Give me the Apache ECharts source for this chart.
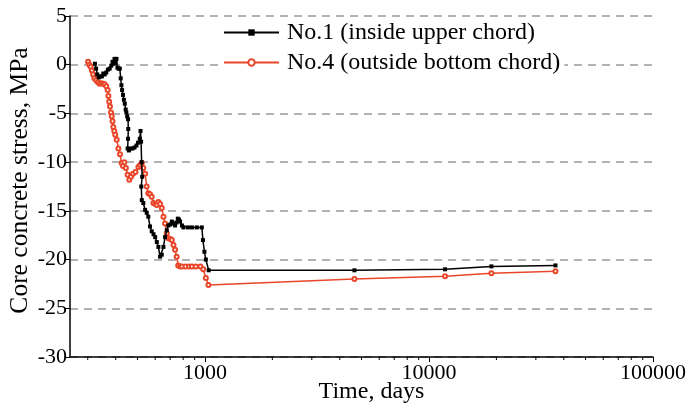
<!DOCTYPE html>
<html>
<head>
<meta charset="utf-8">
<script src="https://cdn.jsdelivr.net/npm/echarts@6/dist/echarts.min.js"></script>
<style>
  html, body { margin: 0; padding: 0; background: #fff; }
  #chart { width: 688px; height: 408px; }
</style>
</head>
<body>
<div id="chart"></div>
<script>
// ---------- data ----------
const seriesNames = ['No.1 (inside upper chord)', 'No.4 (outside bottom chord)']

const daysNo1 = [323, 327, 331, 336, 341, 347, 352, 357, 363, 369, 376, 382, 387, 391, 395, 399, 403, 407, 412, 417,
  421, 424, 427, 431, 435, 439, 443, 446, 450, 454, 455, 454, 452, 458, 465, 475, 485, 495, 503, 512,
  516, 519, 522, 525, 520, 523, 531, 541, 550, 559, 569, 579, 590, 600, 610, 620, 631, 642, 653, 664,
  676, 687, 700, 712, 724, 736, 747, 757, 766, 775, 790, 802, 840, 875, 920, 969, 980, 995, 1010, 1040,
  4650, 11800, 19000, 36700]
const stressNo1 = [0.1, -0.4, -1.0, -1.3, -1.2, -1.2, -0.9, -1.0, -0.8, -0.5, -0.4, -0.1, 0.3, 0.1, 0.6, 0.2, 0.6, -0.3, -0.4, -0.4,
  -1.4, -2.1, -2.6, -3.1, -3.6, -4.0, -4.6, -4.9, -5.3, -5.6, -6.6, -7.6, -8.6, -8.8, -8.6, -8.6, -8.5, -8.3, -8.0, -7.6,
  -6.8, -7.9, -10.0, -11.5, -12.5, -13.9, -14.2, -14.9, -15.2, -15.6, -16.6, -17.1, -17.4, -17.7, -18.2, -18.7, -19.7, -19.5, -18.7, -17.7,
  -17.0, -16.5, -16.4, -16.1, -16.3, -16.5, -16.2, -15.8, -15.9, -16.1, -16.5, -16.7, -16.7, -16.7, -16.7, -16.7, -18.0, -19.2, -20.0, -21.1,
  -21.1, -21.0, -20.7, -20.6]

const daysNo4 = [301, 305, 309, 313, 317, 321, 327, 333, 339, 345, 351, 357, 363, 368, 371, 374, 377, 381, 384, 387,
  390, 394, 398, 404, 411, 418, 425, 431, 437, 444, 452, 460, 468, 478, 490, 505, 514, 523, 531, 541,
  550, 559, 569, 579, 589, 600, 610, 620, 631, 642, 653, 664, 676, 687, 700, 712, 724, 736, 748, 760,
  775, 790, 820, 850, 875, 910, 955, 983, 1010, 1037, 4650, 11800, 19000, 36700]
const stressNo4 = [0.3, 0.0, -0.2, -0.6, -1.0, -1.4, -1.6, -1.8, -1.95, -1.9, -1.95, -2.0, -2.2, -2.6, -3.2, -3.8, -4.3, -4.9, -5.3, -5.8,
  -6.4, -6.8, -7.2, -7.7, -8.6, -9.2, -10.1, -10.4, -10.0, -10.6, -11.3, -11.8, -11.5, -11.2, -11.0, -10.5, -10.3, -10.1, -10.6, -11.2,
  -12.5, -13.2, -13.3, -13.55, -14.2, -14.3, -14.4, -14.1, -14.3, -14.7, -15.6, -16.3, -17.3, -17.8, -17.9, -18.0, -18.5, -19.0, -19.7, -20.6,
  -20.7, -20.7, -20.7, -20.7, -20.7, -20.7, -20.7, -21.0, -21.9, -22.6, -22.0, -21.7, -21.4, -21.2]

// minor tick values on the log time axis
const minorTickDays = [300, 400, 500, 600, 700, 800, 900,
  2000, 3000, 4000, 5000, 6000, 7000, 8000, 9000,
  20000, 30000, 40000, 50000, 60000, 70000, 80000, 90000]

// ---------- chart ----------
const zip = (xs, ys) => xs.map((x, i) => [x, ys[i]])
const font = 'Liberation Serif'
const redClr = '#e9472b'

const chart = echarts.init(document.getElementById('chart'))

chart.setOption({
  animation: false,
  backgroundColor: '#fff',
  grid: { left: 70, top: 16, right: 35, bottom: 51, containLabel: false, outerBoundsMode: 'none' },
  legend: {
    data: seriesNames,
    orient: 'vertical',
    left: 219,
    top: 18,
    padding: [1, 4],
    itemGap: 3,
    itemWidth: 55,
    itemHeight: 8,
    backgroundColor: '#fff',
    textStyle: { fontFamily: font, fontSize: 24, color: '#000', lineHeight: 27, padding: [0, 0, 0, 3] }
  },
  xAxis: {
    type: 'log',
    logBase: 10,
    min: 250,
    max: 100000,
    name: 'Time, days',
    nameLocation: 'middle',
    nameGap: 23,
    nameMoveOverlap: false,
    nameTextStyle: { fontFamily: font, fontSize: 24, color: '#000', padding: [0, 0, 0, 20] },
    axisLine: { onZero: false, lineStyle: { color: '#000', width: 1.5 } },
    axisTick: { length: 5, lineStyle: { color: '#000' } },
    axisLabel: {
      fontFamily: font, fontSize: 22, color: '#000', margin: 5,
      showMinLabel: false,
      formatter: v => String(Math.round(v))
    },
    splitLine: { show: false }
  },
  yAxis: {
    type: 'value',
    min: -30,
    max: 5,
    interval: 5,
    name: 'Core concrete stress, MPa',
    nameLocation: 'middle',
    nameGap: 37,
    nameMoveOverlap: false,
    nameTextStyle: { fontFamily: font, fontSize: 25.5, color: '#000', padding: [0, 0, 0, 12] },
    axisLine: { show: true, lineStyle: { color: '#000', width: 1.5 } },
    axisTick: { show: true, length: 5, lineStyle: { color: '#000' } },
    axisLabel: { fontFamily: font, fontSize: 22, color: '#000', margin: 3 },
    splitLine: { lineStyle: { color: '#999', width: 1.5, type: [8, 6] } }
  },
  series: [
    {
      name: seriesNames[0],
      type: 'line',
      data: zip(daysNo1, stressNo1),
      symbol: 'rect',
      symbolSize: 4,
      showAllSymbol: true,
      lineStyle: { color: '#000', width: 1.5 },
      itemStyle: { color: '#000' },
      z: 3
    },
    {
      name: seriesNames[1],
      type: 'line',
      data: zip(daysNo4, stressNo4),
      symbol: 'emptyCircle',
      symbolSize: 4,
      showAllSymbol: true,
      lineStyle: { color: redClr, width: 1.5 },
      itemStyle: { color: redClr, borderWidth: 1 },
      z: 2
    },
    {
      type: 'custom',
      silent: true,
      clip: false,
      data: minorTickDays.map(d => [d, -30]),
      renderItem: (params, api) => {
        const p = api.coord([api.value(0), api.value(1)])
        return {
          type: 'line',
          shape: { x1: p[0], y1: p[1], x2: p[0], y2: p[1] + 3 },
          style: { stroke: '#000', lineWidth: 1 }
        }
      }
    }
  ]
})
</script>
</body>
</html>
